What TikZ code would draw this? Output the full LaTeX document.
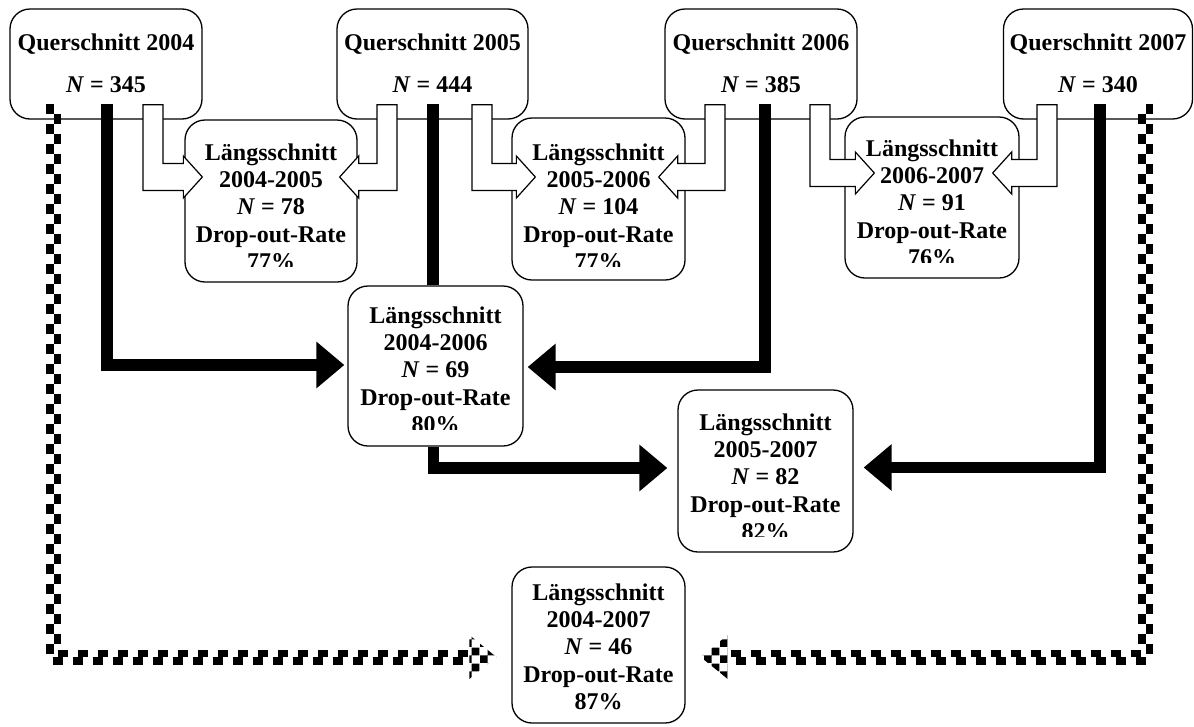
\documentclass[tikz,border=0pt]{standalone}
\usepackage{fontspec}
\setmainfont{Liberation Serif}
\usetikzlibrary{calc,arrows.meta,patterns}

% checkerboard fill used for the heads of the chequered connectors
\pgfdeclarepatternformonly{bigchecker}{\pgfqpoint{0pt}{0pt}}{\pgfqpoint{16pt}{16pt}}{\pgfqpoint{16pt}{16pt}}{%
  \pgfpathrectangle{\pgfqpoint{0pt}{0pt}}{\pgfqpoint{8pt}{8pt}}%
  \pgfpathrectangle{\pgfqpoint{8pt}{8pt}}{\pgfqpoint{8pt}{8pt}}%
  \pgfusepath{fill}}

% bent block arrow: #1 outer top corner of the stem, #2 tip, #3 = 1 (right) or -1 (left)
\newcommand{\hollowarrow}[3]{%
  \path[hollow] let \p1=(#1), \p2=(#2) in
    (\x1,\y1) -- ({\x1+(#3)*20pt},\y1) -- ({\x1+(#3)*20pt},{\y2+13.5pt})
    -- ({\x2-(#3)*19pt},{\y2+13.5pt}) -- ({\x2-(#3)*19pt},{\y2+21pt})
    -- (\x2,\y2) -- ({\x2-(#3)*19pt},{\y2-21pt}) -- ({\x2-(#3)*19pt},{\y2-13.5pt})
    -- (\x1,{\y2-13.5pt}) -- cycle;}

\tikzset{
  box/.style={draw, line width=1.3pt, rounded corners=20pt, inner sep=0pt},
  qtext/.style={anchor=base, inner sep=0pt, font=\bfseries\fontsize{24}{42}\selectfont},
  ltext/.style={anchor=base, inner sep=0pt, font=\bfseries\fontsize{24}{27.4}\selectfont},
  hollow/.style={draw, fill=white, line width=1.2pt, line join=miter},
  bar/.style={line width=11.5pt},
  barrow/.style={line width=11.5pt, -{Triangle[length=28pt,width=45pt]}},
  chk/.style={line width=7.5pt, dash pattern=on 10pt off 10pt},
  chkhead/.style={pattern=bigchecker, pattern color=black}
}

\begin{document}
\begin{tikzpicture}[x=1pt,y=-1pt]
\fill[white] (0,0) rectangle (1194,726);
\useasboundingbox (0,0) rectangle (1194,726);

% cross-section boxes
\node[box, minimum width=192pt, minimum height=110pt] (Q04) at (106,64) {};
\node[box, minimum width=191pt, minimum height=110pt] (Q05) at (432.5,64) {};
\node[box, minimum width=192pt, minimum height=110pt] (Q06) at (761,64) {};
\node[box, minimum width=189pt, minimum height=110pt] (Q07) at (1098,64) {};

% longitudinal boxes
\node[box, minimum width=172pt, minimum height=162pt] (L45) at (271,201) {};
\node[box, minimum width=173pt, minimum height=162pt] (L56) at (598.5,199) {};
\node[box, minimum width=174pt, minimum height=161pt] (L67) at (932,197.5) {};
\node[box, minimum width=175pt, minimum height=160pt] (L46) at (435.5,366) {};
\node[box, minimum width=175pt, minimum height=162pt] (L57) at (765.5,471) {};
\node[box, minimum width=173pt, minimum height=156pt] (L47) at (598.5,645) {};

% solid black connectors
\draw[barrow] ($(Q04.south)+(1,-16)$) |- ($(L46.west)+(-3,-1)$);
\draw[barrow] ($(Q06.south)+(4,-16)$) |- ($(L46.east)+(4,1)$);
\draw[bar] ($(Q05.south)+(0.5,-16)$) coordinate (b3s) -- (b3s |- L46.north);
\draw[barrow] ($(L46.south)+(-2,0)$) |- ($(L57.west)+(-10,-3)$);
\draw[barrow] ($(Q07.south)+(2,-16)$) |- ($(L57.east)+(10,-3.5)$);

% chequered connectors to the 2004-2007 panel
\coordinate (c1s) at ($(Q04.south)+(-52.5,-16)$);
\coordinate (c1t) at ($(L47.west)+(-15,12)$);
\coordinate (c1b) at ($(c1t)+(-27,0)$);
\draw[chk] ($(c1s)+(-3.75,0)$) |- ($(c1b)+(0,3.75)$);
\draw[chk, dash phase=10pt] ($(c1s)+(3.75,0)$) |- ($(c1b)+(0,-3.75)$);
\fill[chkhead] (c1t) -- ($(c1b)+(0,-22)$) -- ($(c1b)+(0,22)$) -- cycle;

\coordinate (c2s) at ($(Q07.south)+(47.5,-16)$);
\coordinate (c2t) at ($(L47.east)+(15,12)$);
\coordinate (c2b) at ($(c2t)+(27,0)$);
\draw[chk] ($(c2s)+(3.75,0)$) |- ($(c2b)+(0,3.75)$);
\draw[chk, dash phase=10pt] ($(c2s)+(-3.75,0)$) |- ($(c2b)+(0,-3.75)$);
\fill[chkhead] (c2t) -- ($(c2b)+(0,-22)$) -- ($(c2b)+(0,22)$) -- cycle;

% hollow bent arrows between neighbouring years
\coordinate (h1a) at ($(Q04.south)+(37,-15)$);
\coordinate (h1b) at ($(L45.west)+(18,-24)$);
\hollowarrow{h1a}{h1b}{1}
\coordinate (h2a) at ($(Q05.south)+(-35.5,-15)$);
\coordinate (h2b) at ($(L45.east)+(-18,-24)$);
\hollowarrow{h2a}{h2b}{-1}
\coordinate (h3a) at ($(Q05.south)+(39.5,-15)$);
\coordinate (h3b) at ($(L56.west)+(24,-22)$);
\hollowarrow{h3a}{h3b}{1}
\coordinate (h4a) at ($(Q06.south)+(-36,-15)$);
\coordinate (h4b) at ($(L56.east)+(-27,-22)$);
\hollowarrow{h4a}{h4b}{-1}
\coordinate (h5a) at ($(Q06.south)+(49,-15)$);
\coordinate (h5b) at ($(L67.west)+(30,-24.5)$);
\hollowarrow{h5a}{h5b}{1}
\coordinate (h6a) at ($(Q07.south)+(-41,-15)$);
\coordinate (h6b) at ($(L67.east)+(-27,-24.5)$);
\hollowarrow{h6a}{h6b}{-1}

% texts of the cross-section boxes
\node[qtext] (Q04t) at (106,50) {\begin{tabular}[t]{@{}c@{}}Querschnitt 2004\\\textit{N} = 345\end{tabular}};
\node[qtext] (Q05t) at (432.5,50) {\begin{tabular}[t]{@{}c@{}}Querschnitt 2005\\\textit{N} = 444\end{tabular}};
\node[qtext] (Q06t) at (761,50) {\begin{tabular}[t]{@{}c@{}}Querschnitt 2006\\\textit{N} = 385\end{tabular}};
\node[qtext] (Q07t) at (1098,50) {\begin{tabular}[t]{@{}c@{}}Querschnitt 2007\\\textit{N} = 340\end{tabular}};

% texts of the longitudinal boxes (the last line is cut by the frame of the text area)
\begin{scope}
\clip (150,100) rectangle (800,266.5);
\node[ltext] (L45t) at (271,160) {\begin{tabular}[t]{@{}c@{}}Längsschnitt\\2004-2005\\\textit{N} = 78\\Drop-out-Rate\\77\%\end{tabular}};
\node[ltext] (L56t) at (598.5,160) {\begin{tabular}[t]{@{}c@{}}Längsschnitt\\2005-2006\\\textit{N} = 104\\Drop-out-Rate\\77\%\end{tabular}};
\end{scope}
\begin{scope}
\clip (800,100) rectangle (1100,262.5);
\node[ltext] (L67t) at (932,156) {\begin{tabular}[t]{@{}c@{}}Längsschnitt\\2006-2007\\\textit{N} = 91\\Drop-out-Rate\\76\%\end{tabular}};
\end{scope}
\begin{scope}
\clip (340,290) rectangle (530,429.5);
\node[ltext] (L46t) at (435.5,323) {\begin{tabular}[t]{@{}c@{}}Längsschnitt\\2004-2006\\\textit{N} = 69\\Drop-out-Rate\\80\%\end{tabular}};
\end{scope}
\begin{scope}
\clip (670,395) rectangle (860,536.5);
\node[ltext] (L57t) at (765.5,430) {\begin{tabular}[t]{@{}c@{}}Längsschnitt\\2005-2007\\\textit{N} = 82\\Drop-out-Rate\\82\%\end{tabular}};
\end{scope}
\node[ltext] (L47t) at (598.5,600) {\begin{tabular}[t]{@{}c@{}}Längsschnitt\\2004-2007\\\textit{N} = 46\\Drop-out-Rate\\87\%\end{tabular}};
\end{tikzpicture}
\end{document}
